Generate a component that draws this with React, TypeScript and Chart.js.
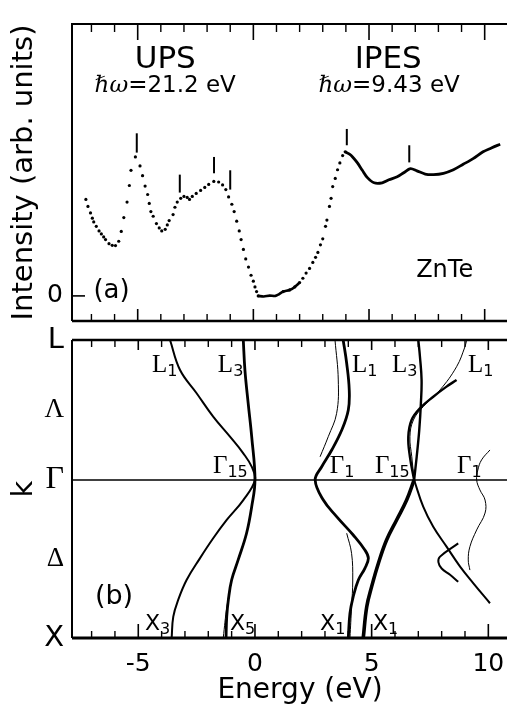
import React, { useEffect, useRef } from 'react';
import { Chart, registerables } from 'chart.js';

Chart.register(...registerables);

const SANS = '"DejaVu Sans", "Liberation Sans", sans-serif';
const SERIF = '"Liberation Serif", "DejaVu Serif", serif';
const SERIF_IT = '"DejaVu Serif", serif';

// ---------- axes ----------
const energyMin = -7.84;
const energyMax = 11.7;
const energyTickValues = [-5, 0, 5, 10];
const energyTickLabels = ['-5', '0', '5', '10'];
const energyMinorTicks = [-7, -6, -4, -3, -2, -1, 1, 2, 3, 4, 6, 7, 8, 9, 11];
const intensityMin = -0.0923;
const intensityMax = 1;
const kMin = -1;
const kMax = 0.886;
const kTickValues = [-1, -0.5, 0, 0.443, 0.886];
const kTickLabels = ['X', 'Δ', 'Γ', 'Λ', 'L'];

// ---------- (a) spectrum ----------
const upsDotsE = [-7.24, -7.15, -7.04, -6.96, -6.90, -6.79, -6.67, -6.57, -6.47, -6.39, -6.24, -6.10, -5.96, -5.82, -5.71, -5.60, -5.46, -5.36, -5.29, -5.10, -4.90, -4.79, -4.68, -4.57, -4.50, -4.43, -4.33, -4.19, -4.07, -3.96, -3.81, -3.72, -3.64, -3.47, -3.39, -3.29, -3.14, -3.00, -2.86, -2.76, -2.64, -2.47, -2.28, -2.10, -1.93, -1.71, -1.50, -1.33, -1.19, -1.07, -0.93, -0.83, -0.72, -0.61, -0.53, -0.43, -0.33, -0.21, -0.10, 0.00, 0.07, 0.14, 0.21];
const upsDotsI = [0.355, 0.329, 0.305, 0.286, 0.272, 0.256, 0.239, 0.228, 0.217, 0.207, 0.192, 0.186, 0.185, 0.201, 0.237, 0.288, 0.345, 0.406, 0.462, 0.511, 0.478, 0.442, 0.404, 0.373, 0.340, 0.310, 0.293, 0.266, 0.250, 0.239, 0.245, 0.261, 0.277, 0.299, 0.326, 0.345, 0.359, 0.366, 0.362, 0.355, 0.366, 0.377, 0.388, 0.399, 0.410, 0.421, 0.419, 0.408, 0.391, 0.364, 0.337, 0.310, 0.275, 0.239, 0.207, 0.171, 0.136, 0.106, 0.076, 0.054, 0.033, 0.016, 0.0];
const flatE = [0.21, 0.45, 0.70, 0.95, 1.10, 1.29, 1.57, 1.79, 2.00];
const flatI = [0.0, -0.002, 0.001, 0.0, 0.006, 0.016, 0.022, 0.033, 0.049];
const riseDotsE = [1.29, 1.57, 1.79, 2.00, 2.14, 2.28, 2.43, 2.57, 2.69, 2.79, 2.90, 3.00, 3.12, 3.18, 3.29, 3.36, 3.43, 3.54, 3.64, 3.74, 3.86, 3.97];
const riseDotsI = [0.016, 0.022, 0.033, 0.049, 0.065, 0.084, 0.101, 0.123, 0.142, 0.160, 0.188, 0.210, 0.256, 0.279, 0.329, 0.359, 0.402, 0.432, 0.464, 0.489, 0.516, 0.530];
const ipesE = [3.97, 4.14, 4.29, 4.50, 4.71, 4.93, 5.22, 5.57, 5.86, 6.22, 6.50, 6.79, 7.07, 7.43, 7.79, 8.22, 8.65, 9.07, 9.50, 9.93, 10.29, 10.67];
const ipesI = [0.530, 0.522, 0.511, 0.489, 0.462, 0.435, 0.416, 0.416, 0.427, 0.438, 0.453, 0.468, 0.460, 0.448, 0.446, 0.451, 0.464, 0.484, 0.505, 0.530, 0.544, 0.558];
const markerE = [-5.04, -3.18, -1.70, -1.00, 4.04, 6.74];
const markerLow = [0.527, 0.380, 0.451, 0.391, 0.554, 0.491];
const markerHigh = [0.598, 0.446, 0.511, 0.462, 0.614, 0.554];

// ---------- (b) band structure (energy, k) ----------
const band1E = [-3.64, -3.21, -2.50, -1.79, -1.07, -0.50, -0.14, 0, -0.50, -1.21, -1.79, -2.36, -2.93, -3.29, -3.50, -3.57];
const band1K = [0.886, 0.696, 0.549, 0.401, 0.274, 0.169, 0.084, 0, -0.127, -0.253, -0.369, -0.496, -0.633, -0.759, -0.865, -1.0];
const band2E = [-0.50, -0.43, -0.29, -0.14, 0, -0.14, -0.36, -0.72, -1.00, -1.14, -1.21, -1.24];
const band2K = [0.886, 0.696, 0.485, 0.274, 0, -0.169, -0.337, -0.506, -0.633, -0.759, -0.865, -1.0];
const band2bE = [-0.95, -1.2, -1.36];
const band2bK = [-0.6, -0.8, -1.0];
const band3E = [3.78, 3.93, 4.04, 4.00, 3.72, 3.29, 2.86, 2.58, 2.93, 3.50, 4.21, 4.71, 4.86, 4.71, 4.43, 4.21, 4.07, 4.00];
const band3K = [0.886, 0.739, 0.570, 0.443, 0.316, 0.190, 0.084, 0, -0.127, -0.232, -0.348, -0.443, -0.496, -0.559, -0.633, -0.739, -0.844, -1.0];
const band3aE = [3.43, 3.57, 3.50, 3.14, 2.79];
const band3aK = [0.886, 0.633, 0.422, 0.274, 0.147];
const band3bE = [3.93, 4.14, 4.19, 4.14, 4.07];
const band3bK = [-0.337, -0.464, -0.633, -0.802, -1.0];
const band4UpE = [7.00, 7.07, 7.14, 7.11, 7.04, 6.93, 6.82];
const band4UpK = [0.886, 0.780, 0.633, 0.485, 0.316, 0.147, 0];
const band4DnE = [6.82, 6.50, 6.07, 5.64, 5.29, 5.00, 4.79, 4.64];
const band4DnK = [0, -0.127, -0.253, -0.380, -0.527, -0.675, -0.802, -1.0];
const band5E = [6.82, 6.64, 6.57, 6.71, 7.07, 7.64, 8.21, 8.64];
const band5K = [0, 0.147, 0.274, 0.380, 0.454, 0.527, 0.591, 0.633];
const band5bE = [6.82, 6.72, 6.64, 6.79, 7.21, 7.93, 8.64, 9.00, 9.07];
const band5bK = [0, 0.147, 0.274, 0.380, 0.464, 0.570, 0.717, 0.844, 0.886];
const band6E = [6.82, 7.21, 7.64, 8.21, 8.79, 9.36, 10.07];
const band6K = [0, -0.169, -0.296, -0.422, -0.548, -0.654, -0.780];
const band7E = [8.71, 7.93, 7.86, 8.00, 8.36, 8.71];
const band7K = [-0.401, -0.485, -0.52, -0.56, -0.60, -0.644];
const band8E = [10.07, 9.71, 9.55, 9.50, 9.64, 9.86, 9.86, 9.50, 9.21, 9.14, 9.21];
const band8K = [0.190, 0.127, 0.063, 0, -0.063, -0.127, -0.209, -0.316, -0.422, -0.506, -0.570];

// ---------- labels ----------
type Part = { t: string; font: string; dy?: number };
const topTexts: { e: number; v: number; parts: Part[] }[] = [
  { e: -3.81, v: 0.837, parts: [{ t: 'UPS', font: `31px ${SANS}` }] },
  { e: -3.81, v: 0.750, parts: [{ t: 'ℏω', font: `italic 23px ${SERIF_IT}` }, { t: '=21.2 eV', font: `23px ${SANS}` }] },
  { e: 5.83, v: 0.837, parts: [{ t: 'IPES', font: `31px ${SANS}` }] },
  { e: 5.87, v: 0.750, parts: [{ t: 'ℏω', font: `italic 23px ${SERIF_IT}` }, { t: '=9.43 eV', font: `23px ${SANS}` }] },
  { e: 8.27, v: 0.071, parts: [{ t: 'ZnTe', font: `24px ${SANS}` }] },
  { e: -6.13, v: -0.0075, parts: [{ t: '(a)', font: `26px ${SANS}` }] },
];
const bandLabelMain = ['L', 'L', 'Γ', 'X', 'X', 'L', 'Γ', 'L', 'Γ', 'L', 'Γ', 'X', 'X'];
const bandLabelSub = ['1', '3', '15', '3', '5', '1', '1', '3', '15', '1', '1', '1', '1'];
const bandLabelE = [-4.41, -1.59, -1.80, -4.71, -1.07, 4.16, 3.21, 5.87, 5.14, 9.13, 8.66, 2.79, 5.06];
const bandLabelK = [0.684, 0.684, 0.044, -0.949, -0.949, 0.684, 0.044, 0.684, 0.044, 0.684, 0.044, -0.949, -0.949];

const zip = (xs: number[], ys: number[]) => xs.map((x, i) => ({ x, y: ys[i] }));

function seg(ctx: CanvasRenderingContext2D, x1: number, y1: number, x2: number, y2: number, w: number) {
  ctx.lineWidth = w;
  ctx.beginPath();
  ctx.moveTo(x1, y1);
  ctx.lineTo(x2, y2);
  ctx.stroke();
}

function drawParts(ctx: CanvasRenderingContext2D, parts: Part[], x: number, y: number, align: 'left' | 'center') {
  ctx.textBaseline = 'alphabetic';
  ctx.textAlign = 'left';
  const widths = parts.map((p) => {
    ctx.font = p.font;
    return ctx.measureText(p.t).width;
  });
  const total = widths.reduce((a, b) => a + b, 0);
  let cx = align === 'center' ? x - total / 2 : x;
  parts.forEach((p, i) => {
    ctx.font = p.font;
    ctx.fillText(p.t, cx, y + (p.dy || 0));
    cx += widths[i];
  });
}

const topDecor = {
  id: 'topDecor',
  afterDatasetsDraw(chart: any) {
    const { ctx, chartArea: a } = chart;
    const xs = chart.scales.x;
    const ys = chart.scales.y;
    ctx.save();
    ctx.strokeStyle = '#000';
    ctx.fillStyle = '#000';
    seg(ctx, a.left - 1, a.top, a.right, a.top, 2);
    seg(ctx, a.left, a.top - 1, a.left, a.bottom, 2);
    seg(ctx, a.left, a.bottom, a.right, a.bottom, 2.5);
    energyTickValues.forEach((e) => {
      const px = xs.getPixelForValue(e);
      seg(ctx, px, a.top, px, a.top + 16, 1.6);
      seg(ctx, px, a.bottom, px, a.bottom - 12, 1.6);
    });
    energyMinorTicks.forEach((e) => {
      const px = xs.getPixelForValue(e);
      seg(ctx, px, a.top, px, a.top + 8, 1.4);
      seg(ctx, px, a.bottom, px, a.bottom - 7, 1.4);
    });
    const y0 = ys.getPixelForValue(0);
    seg(ctx, a.left, y0, a.left + 13, y0, 1.6);
    topTexts.forEach((t) => drawParts(ctx, t.parts, xs.getPixelForValue(t.e), ys.getPixelForValue(t.v), 'center'));
    ctx.restore();
  },
};

const bottomDecor = {
  id: 'bottomDecor',
  afterDatasetsDraw(chart: any) {
    const { ctx, chartArea: a } = chart;
    const xs = chart.scales.x;
    const ys = chart.scales.y;
    ctx.save();
    ctx.strokeStyle = '#000';
    ctx.fillStyle = '#000';
    seg(ctx, a.left, a.top, a.left, a.bottom, 2);
    seg(ctx, a.left, a.top, a.right, a.top, 2.5);
    seg(ctx, a.left, a.bottom, a.right, a.bottom, 3);
    const yG = ys.getPixelForValue(0);
    seg(ctx, a.left, yG, a.right, yG, 1.5);
    energyTickValues.forEach((e) => {
      const px = xs.getPixelForValue(e);
      seg(ctx, px, a.top, px, a.top + 10, 1.6);
      seg(ctx, px, a.bottom, px, a.bottom - 14, 1.6);
    });
    energyMinorTicks.forEach((e) => {
      const px = xs.getPixelForValue(e);
      seg(ctx, px, a.top, px, a.top + 7, 1.4);
      seg(ctx, px, a.bottom, px, a.bottom - 7, 1.4);
    });
    bandLabelMain.forEach((m, i) => {
      const isX = m === 'X';
      drawParts(
        ctx,
        [
          { t: m, font: isX ? `22px ${SANS}` : `25px ${SERIF}` },
          { t: bandLabelSub[i], font: `16px ${SANS}`, dy: 4 },
        ],
        xs.getPixelForValue(bandLabelE[i]),
        ys.getPixelForValue(bandLabelK[i]),
        'left'
      );
    });
    drawParts(ctx, [{ t: '(b)', font: `27px ${SANS}` }], xs.getPixelForValue(-6.04), ys.getPixelForValue(-0.785), 'center');
    ctx.restore();
  },
};

function lineDs(E: number[], K: number[], width: number) {
  return {
    data: zip(E, K),
    showLine: true,
    borderColor: '#000',
    borderWidth: width,
    pointRadius: 0,
    tension: 0.4,
    fill: false,
  };
}

function dotDs(E: number[], I: number[]) {
  return {
    data: zip(E, I),
    showLine: false,
    pointRadius: 1.6,
    pointBackgroundColor: '#000',
    pointBorderWidth: 0,
    borderColor: '#000',
  };
}

function topConfig(): any {
  const markers = markerE.map((e, i) => ({
    data: [{ x: e, y: markerLow[i] }, { x: e, y: markerHigh[i] }],
    showLine: true,
    borderColor: '#000',
    borderWidth: 2,
    pointRadius: 0,
  }));
  return {
    type: 'scatter',
    data: {
      datasets: [
        dotDs(upsDotsE, upsDotsI),
        { ...lineDs(flatE, flatI, 2.6), tension: 0.3 },
        dotDs(riseDotsE, riseDotsI),
        { ...lineDs(ipesE, ipesI, 2.8), tension: 0.3 },
        ...markers,
      ],
    },
    options: {
      animation: false,
      responsive: false,
      maintainAspectRatio: false,
      events: [],
      layout: { padding: { top: 5, bottom: 5, left: 0, right: 0 } },
      plugins: { legend: { display: false }, tooltip: { enabled: false } },
      scales: {
        x: { type: 'linear', min: energyMin, max: energyMax, display: false },
        y: {
          type: 'linear',
          min: intensityMin,
          max: intensityMax,
          afterFit: (s: any) => {
            s.width = 72;
          },
          afterBuildTicks: (s: any) => {
            s.ticks = [{ value: 0 }];
          },
          ticks: {
            callback: () => '0',
            color: '#000',
            font: { family: SANS, size: 25 },
            padding: 9,
          },
          grid: { display: false, drawTicks: false },
          border: { display: false },
          title: {
            display: true,
            text: 'Intensity (arb. units)',
            color: '#000',
            font: { family: SANS, size: 29 },
            padding: { top: 7, bottom: 0 },
          },
        },
      },
    },
    plugins: [topDecor],
  };
}

function bottomConfig(): any {
  return {
    type: 'scatter',
    data: {
      datasets: [
        lineDs(band1E, band1K, 2),
        lineDs(band2E, band2K, 2.8),
        lineDs(band2bE, band2bK, 1),
        lineDs(band3E, band3K, 2.8),
        lineDs(band3aE, band3aK, 1),
        lineDs(band3bE, band3bK, 1),
        lineDs(band4UpE, band4UpK, 2.4),
        lineDs(band4DnE, band4DnK, 3.6),
        lineDs(band5E, band5K, 2.4),
        lineDs(band5bE, band5bK, 1),
        lineDs(band6E, band6K, 2),
        lineDs(band7E, band7K, 2),
        lineDs(band8E, band8K, 1),
      ],
    },
    options: {
      animation: false,
      responsive: false,
      maintainAspectRatio: false,
      events: [],
      layout: { padding: { top: 30, bottom: 0, left: 0, right: 0 } },
      plugins: { legend: { display: false }, tooltip: { enabled: false } },
      scales: {
        x: {
          type: 'linear',
          min: energyMin,
          max: energyMax,
          afterFit: (s: any) => {
            s.height = 75;
            s.paddingLeft = 0;
            s.paddingRight = 0;
          },
          afterBuildTicks: (s: any) => {
            s.ticks = energyTickValues.map((v) => ({ value: v }));
          },
          ticks: {
            callback: (_v: any, i: number) => energyTickLabels[i],
            color: '#000',
            font: { family: SANS, size: 25 },
            padding: 11,
            maxRotation: 0,
          },
          grid: { display: false, drawTicks: false },
          border: { display: false },
          title: {
            display: true,
            text: 'Energy (eV)',
            color: '#000',
            font: { family: SANS, size: 28 },
            padding: { top: 0, bottom: 5 },
          },
        },
        y: {
          type: 'linear',
          min: kMin,
          max: kMax,
          afterFit: (s: any) => {
            s.width = 72;
          },
          afterBuildTicks: (s: any) => {
            s.ticks = kTickValues.map((v) => ({ value: v }));
          },
          ticks: {
            callback: (_v: any, i: number) => kTickLabels[i],
            color: '#000',
            font: (c: any) => {
              const lab = kTickLabels[c.index];
              if (lab === 'L' || lab === 'X') return { family: SANS, size: 29 };
              if (lab === 'Γ') return { family: SERIF, size: 32 };
              return { family: SERIF, size: 27 };
            },
            padding: 8,
          },
          grid: { display: false, drawTicks: false },
          border: { display: false },
          title: {
            display: true,
            text: 'k',
            color: '#000',
            font: { family: SANS, size: 29 },
            padding: { top: 7, bottom: 0 },
          },
        },
      },
    },
    plugins: [bottomDecor],
  };
}

export default function App() {
  const topRef = useRef<HTMLCanvasElement>(null);
  const botRef = useRef<HTMLCanvasElement>(null);
  useEffect(() => {
    const c1 = new Chart(topRef.current as HTMLCanvasElement, topConfig());
    const c2 = new Chart(botRef.current as HTMLCanvasElement, bottomConfig());
    return () => {
      c1.destroy();
      c2.destroy();
    };
  }, []);
  return (
    <div style={{ position: 'absolute', left: 0, top: 0, width: 507, height: 713, overflow: 'hidden', background: '#fff' }}>
      <canvas ref={topRef} width={528} height={345} style={{ position: 'absolute', left: 0, top: 0, width: 528, height: 345 }} />
      <canvas ref={botRef} width={528} height={403} style={{ position: 'absolute', left: 0, top: 310, width: 528, height: 403 }} />
    </div>
  );
}
